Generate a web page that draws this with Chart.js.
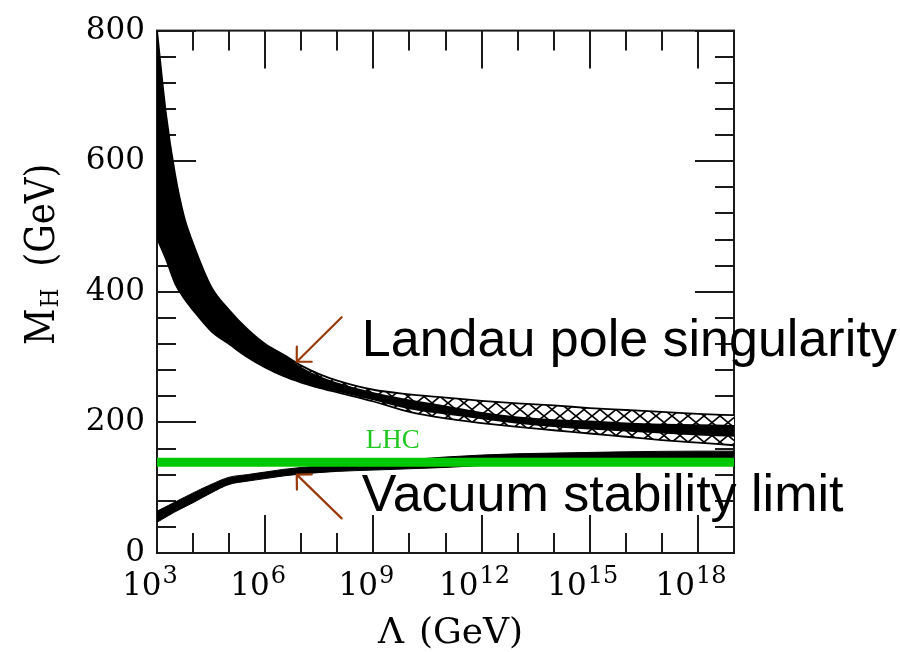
<!DOCTYPE html>
<html>
<head>
<meta charset="utf-8">
<script src="https://cdn.jsdelivr.net/npm/chart.js@4/dist/chart.umd.min.js"></script>
<style>
html,body{margin:0;padding:0;background:#fff;}
#wrap{width:900px;height:652px;position:relative;}
canvas{display:block;background:#fff;}
</style>
</head>
<body>
<div id="wrap"><canvas id="c" width="900" height="652"></canvas></div>
<script>
// ---- data (x = log10 of Lambda / GeV, y = M_H in GeV) ----
const xTickExponents = [3, 6, 9, 12, 15, 18];
const yTickValues = [0, 200, 400, 600, 800];
const lambdaExpUpper    = [3, 3.25, 3.5, 3.75, 4, 4.5, 5, 5.5, 6, 6.5, 7, 7.5, 8, 9, 10, 11, 12, 13, 14, 15, 16, 17, 18, 19];
const landauOuterTop    = [800, 672, 580, 515, 474, 408, 372, 343, 320, 304, 287, 274, 264, 250, 243, 238, 233, 229, 226, 222, 219, 216, 213, 211];
const landauOuterBottom = [482, 450, 413, 390, 372, 340, 320, 300, 284, 271, 261, 253, 246, 232, 216, 206, 199, 193, 188, 183, 178, 173, 169, 165];
const landauCoreTop     = [800, 672, 580, 515, 474, 408, 372, 343, 320, 304, 285, 271, 261, 246, 235, 226, 216, 209, 205, 203, 200, 198, 197, 196];
const landauCoreBottom  = [482, 450, 413, 390, 372, 340, 320, 300, 284, 271, 261, 253, 247, 234, 220, 212, 205, 198, 193, 189, 186, 183, 180, 178];
const lambdaExpLower = [3, 3.5, 4, 4.5, 5, 5.5, 6, 6.5, 7, 8, 9, 10, 11, 12, 13, 14, 16, 18, 19];
const vacuumTop      = [64, 78, 92, 105, 116, 120, 124, 128, 131, 135, 139, 143, 147, 150, 152, 153, 155, 156, 156];
const vacuumBottom   = [47, 63, 77, 92, 105, 110, 114, 118, 121, 125, 127, 129, 131, 134, 136, 137, 138, 138, 138];
const lhcMass = 139;
const lhcRange = [3, 19];
// annotations (data coordinates)
const noteTexts   = ['Landau pole singularity', 'Vacuum stability limit'];
const noteAnchors = [[8.68, 301], [8.68, 64.5]];
const arrowTails  = [[8.12, 361], [8.12, 53]];
const arrowTips   = [[6.875, 293], [6.875, 120]];
const lhcLabel = 'LHC';
const lhcLabelAnchor = [9.54, 160.5];

const pts = (xs, ys) => xs.map((x, i) => ({x: x, y: ys[i]}));

const canvas = document.getElementById('c');
const ctx0 = canvas.getContext('2d');
const pc = document.createElement('canvas');
pc.width = 16; pc.height = 13;
const g = pc.getContext('2d');
g.fillStyle = '#fff'; g.fillRect(0, 0, 16, 13);
g.strokeStyle = '#000'; g.lineWidth = 1.7;
g.beginPath();
g.moveTo(-1, -0.8125); g.lineTo(17, 13.8125);
g.moveTo(-1, 13.8125); g.lineTo(17, -0.8125);
g.stroke();
const hatch = ctx0.createPattern(pc, 'repeat');

const serif = '"DejaVu Serif", "Liberation Serif", serif';

const framePlugin = {
  id: 'framePlugin',
  beforeDraw(chart) {
    const {ctx, chartArea: a, scales: {x, y}} = chart;
    ctx.save();
    ctx.strokeStyle = '#1a1a1a';
    ctx.lineWidth = 2;
    ctx.beginPath();
    for (let v = y.min; v <= y.max; v += 40) {
      const py = Math.round(y.getPixelForValue(v));
      const len = (v % 200 === 0) ? 39 : 19;
      ctx.moveTo(a.left, py); ctx.lineTo(a.left + len, py);
      ctx.moveTo(a.right, py); ctx.lineTo(a.right - len, py);
    }
    for (let e = x.min; e <= x.max; e += 1) {
      const px = Math.round(x.getPixelForValue(e));
      const len = (e % 3 === 0) ? 38 : 20;
      ctx.moveTo(px, a.bottom); ctx.lineTo(px, a.bottom - len);
      ctx.moveTo(px, a.top); ctx.lineTo(px, a.top + len);
    }
    ctx.stroke();
    ctx.strokeRect(a.left, a.top, a.right - a.left, a.bottom - a.top);
    ctx.restore();
  },
  afterDatasetsDraw(chart) {
    const {ctx, scales: {x, y}} = chart;
    ctx.save();
    // arrows
    ctx.strokeStyle = '#9a3a0a';
    ctx.lineWidth = 2.2;
    ctx.lineCap = 'round';
    arrowTips.forEach((tip, i) => {
      const tx = x.getPixelForValue(tip[0]), ty = y.getPixelForValue(tip[1]);
      const sx = x.getPixelForValue(arrowTails[i][0]), sy = y.getPixelForValue(arrowTails[i][1]);
      const ang = Math.atan2(sy - ty, sx - tx);
      ctx.beginPath();
      ctx.moveTo(sx, sy); ctx.lineTo(tx, ty);
      [-Math.PI / 4, Math.PI / 4].forEach(d => {
        ctx.moveTo(tx, ty);
        ctx.lineTo(tx + 15 * Math.cos(ang + d), ty + 15 * Math.sin(ang + d));
      });
      ctx.stroke();
    });
    // notes
    ctx.fillStyle = '#000';
    ctx.font = '52px "Liberation Sans", Arial, sans-serif';
    ctx.textAlign = 'left';
    ctx.textBaseline = 'alphabetic';
    noteTexts.forEach((t, i) => {
      ctx.fillText(t, x.getPixelForValue(noteAnchors[i][0]), y.getPixelForValue(noteAnchors[i][1]));
    });
    // LHC label
    ctx.fillStyle = 'rgb(30,200,30)';
    ctx.font = '27px "Liberation Serif", serif';
    ctx.textAlign = 'center';
    ctx.fillText(lhcLabel, x.getPixelForValue(lhcLabelAnchor[0]), y.getPixelForValue(lhcLabelAnchor[1]));
    ctx.restore();
  },
  afterDraw(chart) {
    const {ctx, chartArea: a, scales: {x}} = chart;
    ctx.save();
    ctx.fillStyle = '#000';
    ctx.textAlign = 'left';
    ctx.textBaseline = 'alphabetic';
    // x tick labels 10^n
    xTickExponents.forEach(e => {
      const px = x.getPixelForValue(e);
      ctx.font = '31px ' + serif;
      const wb = ctx.measureText('10').width;
      ctx.font = '24px ' + serif;
      const we = ctx.measureText(String(e)).width;
      const start = px - 7 - (wb + 1 + we) / 2;
      ctx.font = '31px ' + serif;
      ctx.fillText('10', start, a.bottom + 42);
      ctx.font = '24px ' + serif;
      ctx.fillText(String(e), start + wb + 1, a.bottom + 30);
    });
    // x title
    ctx.font = '36px ' + serif;
    ctx.fillText('\u039B', 378, 643);
    ctx.fillText('(GeV)', 419, 643);
    // y title (rotated)
    ctx.translate(54, 345);
    ctx.rotate(-Math.PI / 2);
    ctx.scale(0.87, 1);
    ctx.font = '41px ' + serif;
    ctx.fillText('M', 0, 0);
    const wm = ctx.measureText('M').width;
    ctx.font = '25px ' + serif;
    ctx.fillText('H', wm + 1, 4);
    ctx.font = '41px ' + serif;
    ctx.fillText('(GeV)', 90, 0);
    ctx.restore();
  }
};

new Chart(canvas, {
  type: 'line',
  data: {
    datasets: [
      {label: 'Landau band', data: pts(lambdaExpUpper, landauOuterTop), borderColor: '#000', borderWidth: 1.8, backgroundColor: hatch, fill: '+1', order: 4},
      {label: 'Landau band low', data: pts(lambdaExpUpper, landauOuterBottom), borderColor: '#000', borderWidth: 1.8, fill: false, order: 4},
      {label: 'Landau core', data: pts(lambdaExpUpper, landauCoreTop), borderColor: '#000', borderWidth: 0, backgroundColor: '#000', fill: '+1', order: 3},
      {label: 'Landau core low', data: pts(lambdaExpUpper, landauCoreBottom), borderColor: '#000', borderWidth: 0, fill: false, order: 3},
      {label: 'Vacuum stability', data: pts(lambdaExpLower, vacuumTop), borderColor: '#000', borderWidth: 1, backgroundColor: '#000', fill: '+1', order: 2},
      {label: 'Vacuum stability low', data: pts(lambdaExpLower, vacuumBottom), borderColor: '#000', borderWidth: 1, fill: false, order: 2},
      {label: 'LHC', data: lhcRange.map(v => ({x: v, y: lhcMass})), borderColor: 'rgb(0,200,0)', borderWidth: 9, fill: false, order: 0, cubicInterpolationMode: 'default', tension: 0}
    ]
  },
  options: {
    responsive: false,
    devicePixelRatio: 1,
    animation: false,
    layout: {padding: {left: 0, top: 23, right: 166, bottom: 0}},
    elements: {point: {radius: 0}, line: {cubicInterpolationMode: 'monotone'}},
    plugins: {legend: {display: false}, tooltip: {enabled: false}, filler: {drawTime: 'beforeDatasetsDraw', propagate: false}},
    scales: {
      x: {
        type: 'linear', min: 3, max: 19,
        grid: {display: false, drawTicks: false}, border: {display: false},
        ticks: {display: false},
        afterFit(s) { s.height = 99; }
      },
      y: {
        type: 'linear', min: 0, max: 800,
        grid: {display: false, drawTicks: false}, border: {display: false},
        afterBuildTicks(s) { s.ticks = yTickValues.map(v => ({value: v})); },
        ticks: {color: '#000', padding: 12, font: {family: serif, size: 31}},
        afterFit(s) { s.width = 157; }
      }
    }
  },
  plugins: [framePlugin]
});
</script>
</body>
</html>
